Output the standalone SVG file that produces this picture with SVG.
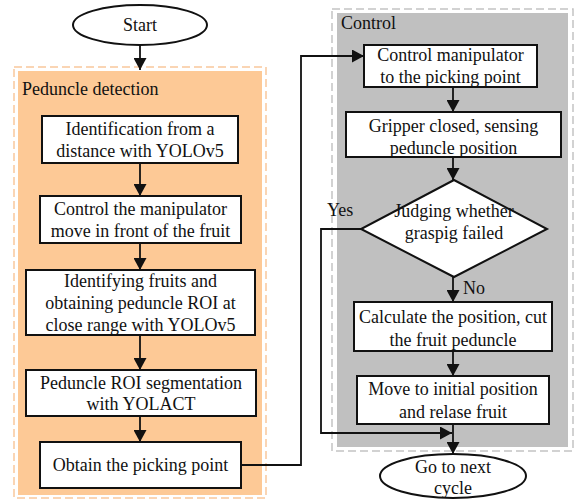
<svg xmlns="http://www.w3.org/2000/svg" width="574" height="502" viewBox="0 0 574 502" font-family="Liberation Serif, Times New Roman, serif" font-size="18">
<style>
text{font-family:'Liberation Serif','Times New Roman',serif;font-size:18px;fill:#111}
.c{text-anchor:middle}
.box{fill:#fff;stroke:#111;stroke-width:2}
.ln{fill:none;stroke:#111;stroke-width:1.8}
</style>
<defs>
<marker id="ah" markerUnits="userSpaceOnUse" markerWidth="13" markerHeight="13" refX="12" refY="6.5" orient="auto">
<path d="M0,0 L12,6.5 L0,13 Z" fill="#111"/>
</marker>
</defs>
<rect width="574" height="502" fill="#fff"/>
<g id="region-peduncle">
<rect x="14" y="67" width="252" height="431" fill="none" stroke="#F9C89C" stroke-width="1.5" stroke-dasharray="8,4"/>
<rect x="18" y="71" width="244" height="424" fill="#FDC996"/>
<text x="22" y="95">Peduncle detection</text>
</g>
<g id="region-control">
<rect x="332" y="9" width="241" height="442" fill="none" stroke="#C4C4C4" stroke-width="1.5" stroke-dasharray="8,4"/>
<rect x="337" y="13" width="231" height="434" fill="#C0C0C0"/>
<text x="341" y="29">Control</text>
</g>
<g id="connectors">
<line class="ln" x1="140" y1="45" x2="140" y2="70" marker-end="url(#ah)"/>
<line class="ln" x1="140" y1="163" x2="140" y2="196" marker-end="url(#ah)"/>
<line class="ln" x1="140" y1="243" x2="140" y2="270" marker-end="url(#ah)"/>
<line class="ln" x1="140" y1="335" x2="140" y2="370" marker-end="url(#ah)"/>
<line class="ln" x1="140" y1="416" x2="140" y2="442" marker-end="url(#ah)"/>
<polyline class="ln" points="241,465 301,465 301,56 364,56" marker-end="url(#ah)"/>
<line class="ln" x1="453" y1="87" x2="453" y2="112" marker-end="url(#ah)"/>
<line class="ln" x1="453" y1="157" x2="453" y2="180" marker-end="url(#ah)"/>
<line class="ln" x1="453" y1="277" x2="453" y2="302" marker-end="url(#ah)"/>
<line class="ln" x1="453" y1="351" x2="453" y2="376" marker-end="url(#ah)"/>
<line class="ln" x1="453" y1="424" x2="453" y2="454" marker-end="url(#ah)"/>
<polyline class="ln" points="361,229 321,229 321,433 452,433" marker-end="url(#ah)"/>
<text x="327" y="216">Yes</text>
<text x="463" y="294">No</text>
</g>
<g id="start">
<ellipse cx="140" cy="25" rx="67" ry="20" class="box"/>
<text x="140" y="31" class="c">Start</text>
</g>
<g id="n1">
<rect x="42" y="116" width="196" height="47" class="box"/>
<text x="140" y="134.5" class="c">Identification from a</text>
<text x="140" y="156.5" class="c">distance with YOLOv5</text>
</g>
<g id="n2">
<rect x="40" y="196" width="201" height="47" class="box"/>
<text x="140.5" y="214.5" class="c">Control the manipulator</text>
<text x="140.5" y="236.5" class="c">move in front of the fruit</text>
</g>
<g id="n3">
<rect x="26" y="270" width="229" height="65" class="box"/>
<text x="140.5" y="287" class="c">Identifying fruits and</text>
<text x="140.5" y="309" class="c">obtaining peduncle ROI at</text>
<text x="140.5" y="331" class="c">close range with YOLOv5</text>
</g>
<g id="n4">
<rect x="26" y="370" width="230" height="46" class="box"/>
<text x="141" y="389" class="c">Peduncle ROI segmentation</text>
<text x="141" y="410" class="c">with YOLACT</text>
</g>
<g id="n5">
<rect x="40" y="442" width="201" height="46" class="box"/>
<text x="140.5" y="471" class="c">Obtain the picking point</text>
</g>
<g id="c1">
<rect x="364" y="45" width="173" height="42" class="box"/>
<text x="450.5" y="61" class="c">Control manipulator</text>
<text x="450.5" y="83" class="c">to the picking point</text>
</g>
<g id="c2">
<rect x="346" y="112" width="215" height="45" class="box"/>
<text x="453.5" y="132" class="c">Gripper closed, sensing</text>
<text x="453.5" y="154" class="c">peduncle position</text>
</g>
<g id="decision">
<polygon points="454,180 547,229 454,277 361,229" class="box" stroke-width="1.5"/>
<text x="454" y="217" class="c">Judging whether</text>
<text x="454" y="239" class="c">graspig failed</text>
</g>
<g id="c3">
<rect x="354" y="302" width="198" height="49" class="box"/>
<text x="453" y="323" class="c">Calculate the position, cut</text>
<text x="453" y="346" class="c">the fruit peduncle</text>
</g>
<g id="c4">
<rect x="357" y="376" width="192" height="48" class="box"/>
<text x="453" y="395" class="c">Move to initial position</text>
<text x="453" y="418" class="c">and relase fruit</text>
</g>
<g id="end">
<ellipse cx="453" cy="476" rx="73" ry="22" class="box"/>
<text x="453" y="473" class="c">Go to next</text>
<text x="453" y="494" class="c">cycle</text>
</g>
</svg>
